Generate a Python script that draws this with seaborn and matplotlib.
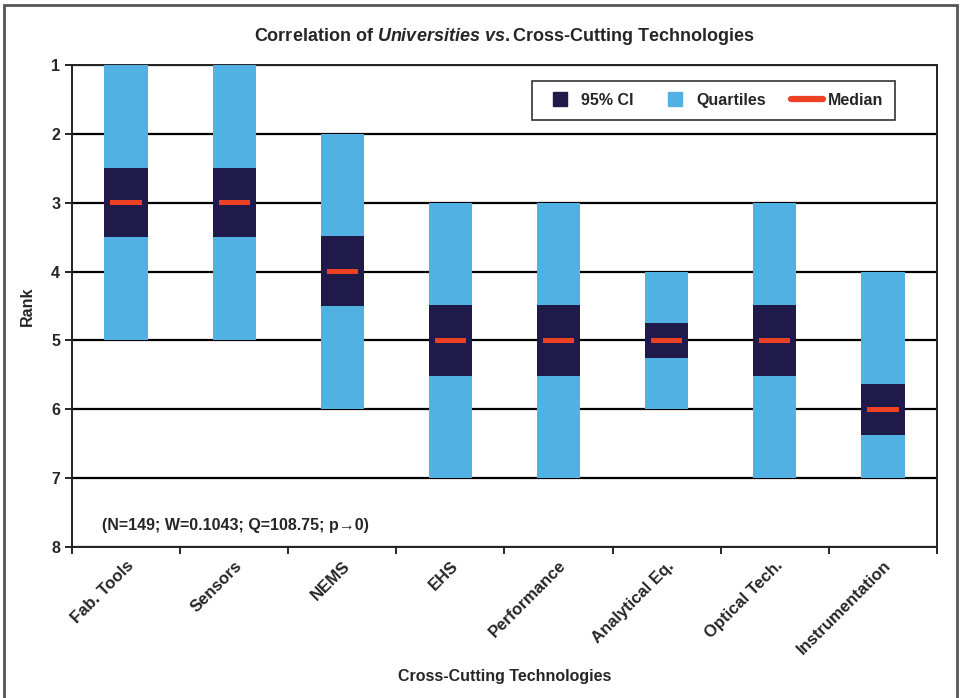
import matplotlib
matplotlib.use("Agg")
import matplotlib.pyplot as plt
import numpy as np
import pandas as pd
import seaborn as sns
from matplotlib.lines import Line2D
from matplotlib.patches import Rectangle

# data
technologies = ["Fab. Tools", "Sensors", "NEMS", "EHS", "Performance",
                "Analytical Eq.", "Optical Tech.", "Instrumentation"]
quartile_low = [1, 1, 2, 3, 3, 4, 3, 4]
quartile_high = [5, 5, 6, 7, 7, 6, 7, 7]
ci_low = [2.5, 2.5, 3.48, 4.48, 4.48, 4.74, 4.48, 5.63]
ci_high = [3.5, 3.5, 4.5, 5.52, 5.52, 5.25, 5.52, 6.38]
median = [3, 3, 4, 5, 5, 5, 5, 6]
ranks = [1, 2, 3, 4, 5, 6, 7, 8]

LIGHT = "#51b1e3"
NAVY = "#1f1a4a"
RED = "#ee4123"

sns.set_theme(style="white")
plt.rcParams["font.family"] = ["Liberation Sans", "DejaVu Sans"]
plt.rcParams["font.weight"] = "bold"
plt.rcParams["mathtext.fontset"] = "custom"
plt.rcParams["mathtext.it"] = "Liberation Sans:italic:bold"
plt.rcParams["mathtext.rm"] = "Liberation Sans:bold"

df = pd.DataFrame({
    "tech": technologies,
    "q_low": quartile_low,
    "q_span": np.array(quartile_high) - np.array(quartile_low),
    "ci_low": ci_low,
    "ci_span": np.array(ci_high) - np.array(ci_low),
    "med_low": np.array(median) - 0.037,
    "med_span": 0.074,
})

fig = plt.figure(figsize=(9.6, 6.98), dpi=100)
ax = fig.add_axes([0.075, 0.2163, 0.901, 0.6906])

sns.barplot(data=df, x="tech", y="q_span", bottom=df["q_low"], width=0.4,
            color=LIGHT, saturation=1, linewidth=0, errorbar=None, ax=ax, zorder=3)
sns.barplot(data=df, x="tech", y="ci_span", bottom=df["ci_low"], width=0.4,
            color=NAVY, saturation=1, linewidth=0, errorbar=None, ax=ax, zorder=4)
sns.barplot(data=df, x="tech", y="med_span", bottom=df["med_low"], width=0.29,
            color=RED, saturation=1, linewidth=0, errorbar=None, ax=ax, zorder=5)

ax.set_ylim(8, 1)
ax.set_xlim(-0.5, len(technologies) - 0.5)
ax.set_yticks(ranks)
ax.set_yticklabels([str(r) for r in ranks], fontsize=11.5, fontweight="bold")
ax.yaxis.grid(True, color="black", linewidth=1.6)
ax.set_axisbelow(True)

ax.set_xticks(np.arange(-0.5, len(technologies)))
ax.set_xticklabels([])
ax.set_xticks(np.arange(len(technologies)), minor=True)
ax.set_xticklabels(technologies, minor=True, rotation=45, ha="right",
                   rotation_mode="anchor", fontsize=12, fontweight="bold")
ax.tick_params(axis="x", which="minor", length=0, pad=8)
ax.tick_params(axis="both", which="major", length=5, width=1.2, color="black",
               direction="out", left=True, bottom=True)

for s in ax.spines.values():
    s.set_color("#222222")
    s.set_linewidth(1.4)

ax.set_xlabel("Cross-Cutting Technologies", fontsize=11.5, fontweight="bold", labelpad=8)
ax.set_ylabel("Rank", fontsize=11.5, fontweight="bold", labelpad=12)
ax.set_title("Correlation of $\\mathit{Universities}$ $\\mathit{vs.}$Cross-Cutting Technologies",
             fontsize=13, fontweight="bold", pad=17)

ax.text(0.035, 0.0456, "(N=149; W=0.1043; Q=108.75; p\u21920)", transform=ax.transAxes,
        fontsize=11.5, fontweight="bold", va="center")

handles = [
    Line2D([], [], marker="s", ls="", ms=10.5, color=NAVY),
    Line2D([], [], marker="s", ls="", ms=10.5, color=LIGHT),
    Line2D([], [], color=RED, lw=4.5),
]
leg = ax.legend(handles, ["95% CI", "Quartiles", "Median"], ncol=3,
                loc="upper right", bbox_to_anchor=(0.961, 0.984), frameon=True,
                fancybox=False, edgecolor="black",
                prop={"weight": "bold", "size": 11.5}, handlelength=2,
                handletextpad=0.3, columnspacing=1.6, borderpad=0.75)
leg.get_frame().set_linewidth(1.2)

fig.patches.append(Rectangle((4 / 960, -0.05), 953 / 960, 1.05 - 5 / 698,
                             transform=fig.transFigure, fill=False,
                             edgecolor="#555555", linewidth=2))

fig.savefig("out.png", dpi=100)
